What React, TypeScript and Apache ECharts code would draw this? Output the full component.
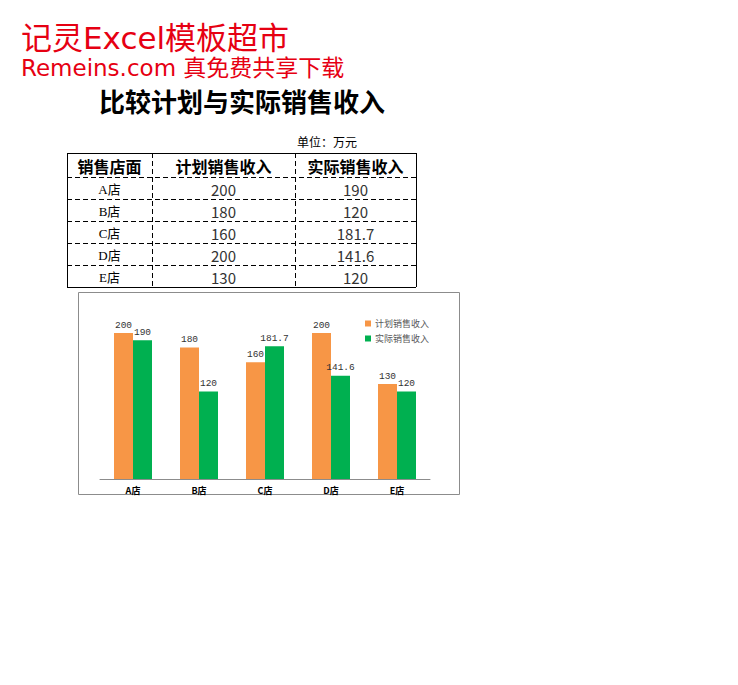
import React, { useEffect, useRef } from "react";
import * as echarts from "echarts";

const stores = ["A店", "B店", "C店", "D店", "E店"];
const planned = [200, 180, 160, 200, 130];
const actual = [190, 120, 181.7, 141.6, 120];
const headers = ["销售店面", "计划销售收入", "实际销售收入"];
const seriesNames = ["计划销售收入", "实际销售收入"];
const brandLine1 = "记灵Excel模板超市";
const brandLine2 = "Remeins.com 真免费共享下载";
const titleText = "比较计划与实际销售收入";
const unitText = "单位：万元";

const CJK = '"Noto Sans CJK SC", "Noto Sans", sans-serif';
const BRAND = '"DejaVu Sans", "Noto Sans CJK SC", sans-serif';

export default function App() {
  const ref = useRef<HTMLDivElement>(null);
  useEffect(() => {
    if (!ref.current) return;
    const chart = echarts.init(ref.current, undefined, { renderer: "svg" });

    const colX = [67, 152, 295, 416];
    const rowY = [153, 177, 199, 221, 243, 265, 287];
    const graphics: any[] = [];

    // brand texts
    graphics.push({
      type: "text",
      style: { x: 21, y: 38, text: brandLine1, fill: "#E60012", font: `31px ${BRAND}`, textVerticalAlign: "middle" },
    });
    graphics.push({
      type: "text",
      style: { x: 21, y: 68, text: brandLine2, fill: "#E60012", font: `23px ${BRAND}`, textVerticalAlign: "middle" },
    });
    graphics.push({
      type: "text",
      style: { x: 242, y: 100, text: titleText, fill: "#000", font: `bold 26px ${CJK}`, textAlign: "center", textVerticalAlign: "middle" },
    });
    graphics.push({
      type: "text",
      style: { x: 297, y: 141, text: unitText, fill: "#000", font: `12px ${CJK}`, textVerticalAlign: "middle" },
    });

    // table lines
    const solid = { stroke: "#000", lineWidth: 1 };
    const dashed = { stroke: "#000", lineWidth: 1, lineDash: [5, 3] };
    graphics.push({ type: "line", shape: { x1: colX[0], y1: rowY[0] + 0.5, x2: colX[3], y2: rowY[0] + 0.5 }, style: solid });
    graphics.push({ type: "line", shape: { x1: colX[0], y1: rowY[6] + 0.5, x2: colX[3], y2: rowY[6] + 0.5 }, style: solid });
    graphics.push({ type: "line", shape: { x1: colX[0] + 0.5, y1: rowY[0], x2: colX[0] + 0.5, y2: rowY[6] }, style: solid });
    graphics.push({ type: "line", shape: { x1: colX[3] + 0.5, y1: rowY[0], x2: colX[3] + 0.5, y2: rowY[6] }, style: solid });
    for (let r = 1; r < rowY.length - 1; r++) {
      graphics.push({ type: "line", shape: { x1: colX[0], y1: rowY[r] + 0.5, x2: colX[3], y2: rowY[r] + 0.5 }, style: dashed });
    }
    for (let c = 1; c < colX.length - 1; c++) {
      graphics.push({ type: "line", shape: { x1: colX[c] + 0.5, y1: rowY[0], x2: colX[c] + 0.5, y2: rowY[6] }, style: dashed });
    }
    // header texts
    headers.forEach((h, i) => {
      graphics.push({
        type: "text",
        style: {
          x: (colX[i] + colX[i + 1]) / 2, y: (rowY[0] + rowY[1]) / 2 + 1, text: h, fill: "#000",
          font: `bold 16px ${CJK}`, textAlign: "center", textVerticalAlign: "middle",
        },
      });
    });
    stores.forEach((s, r) => {
      const cy = (rowY[r + 1] + rowY[r + 2]) / 2 + 1;
      const cells = [s, String(planned[r]), String(actual[r])];
      cells.forEach((t, i) => {
        graphics.push({
          type: "text",
          style: {
            x: (colX[i] + colX[i + 1]) / 2, y: cy, text: t, fill: i === 0 ? "#000" : "#333",
            font: i === 0 ? `13px "Liberation Serif", ${CJK}` : `15px ${CJK}`,
            textAlign: "center", textVerticalAlign: "middle",
          },
        });
      });
    });
    // chart border
    graphics.push({
      type: "rect", shape: { x: 78.5, y: 292.5, width: 381, height: 202 },
      style: { fill: "none", stroke: "#8c8c8c", lineWidth: 1 }, z: -1,
    });

    const labelStyle = {
      show: true, position: "top", distance: 3, color: "#333",
      fontSize: 9.5, fontFamily: '"Liberation Mono", monospace',
    };

    chart.setOption({
      animation: false,
      backgroundColor: "#fff",
      graphic: graphics,
      legend: {
        left: 360, top: 314, orient: "vertical", itemWidth: 6, itemHeight: 6, itemGap: 6,
        icon: "rect",
        textStyle: { fontSize: 9, color: "#595959", fontFamily: CJK, padding: [0, 0, 0, -1] },
        data: seriesNames,
      },
      grid: { left: 100, right: 308, top: 296.5, bottom: 206, containLabel: false },
      xAxis: {
        type: "category", data: stores,
        axisLine: { lineStyle: { color: "#8c8c8c", width: 1 } },
        axisTick: { show: false },
        axisLabel: { color: "#000", fontSize: 9, fontWeight: "bold", fontFamily: CJK, margin: 7 },
      },
      yAxis: { type: "value", min: 0, max: 250, show: false, splitLine: { show: false } },
      series: [
        {
          name: seriesNames[0], type: "bar", data: planned, barWidth: 19, barGap: "0%",
          itemStyle: { color: "#F79646" }, label: labelStyle,
        },
        {
          name: seriesNames[1], type: "bar", data: actual, barWidth: 19,
          itemStyle: { color: "#00B050" }, label: labelStyle,
        },
      ],
    });
    return () => chart.dispose();
  }, []);
  return <div ref={ref} style={{ position: "fixed", left: 0, top: 0, width: 738, height: 685 }} />;
}
